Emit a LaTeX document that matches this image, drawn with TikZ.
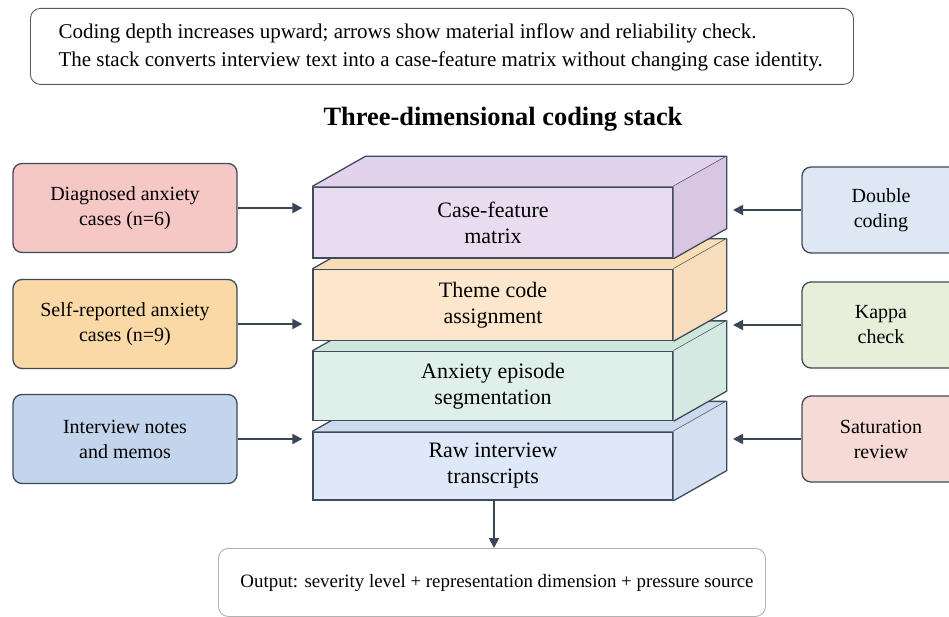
\documentclass[tikz,border=0pt]{standalone}
\usepackage{fontspec}
\setmainfont{Liberation Serif}
\usetikzlibrary{arrows.meta,calc}
\definecolor{edge}{HTML}{3F4A5A}
\definecolor{arrc}{HTML}{3A4658}
\definecolor{lbA}{HTML}{F5C7C5}
\definecolor{lbB}{HTML}{FAD9A6}
\definecolor{lbC}{HTML}{C2D5EC}
\definecolor{rbA}{HTML}{DEE8F5}
\definecolor{rbB}{HTML}{E8EEDA}
\definecolor{rbC}{HTML}{F6DAD6}
\definecolor{aF}{HTML}{EADCF0}\definecolor{aT}{HTML}{E2D2EC}\definecolor{aS}{HTML}{D9C6E3}
\definecolor{bF}{HTML}{FDE7CC}\definecolor{bT}{HTML}{F8DDB7}\definecolor{bS}{HTML}{F7DDBC}
\definecolor{cF}{HTML}{DFF0EA}\definecolor{cT}{HTML}{CFE6DD}\definecolor{cS}{HTML}{D4E9E2}
\definecolor{dF}{HTML}{DFE8F8}\definecolor{dT}{HTML}{CCD9EE}\definecolor{dS}{HTML}{D4DFF2}
\tikzset{
  txt/.style={font=\fontsize{20}{25}\selectfont, align=center, text=black},
  sidebox/.style={txt, draw=edge, line width=1.3pt, rounded corners=9pt, inner sep=0pt},
  lbox/.style={sidebox, minimum width=224pt, minimum height=89pt},
  rbox/.style={sidebox, minimum width=158pt, minimum height=86pt},
  layer/.style={txt, font=\fontsize{22}{26}\selectfont, draw=edge, line width=1.3pt, minimum width=360pt, inner sep=0pt},
  face/.style={draw=edge, line width=1.3pt, line join=round},
  arr/.style={draw=arrc, line width=1.8pt, -{Triangle[length=10pt,width=10pt]}},
  note/.style={draw=gray!70!black, line width=0.9pt, rounded corners=10pt}
}
\newcommand{\cuboidfaces}[3]{%
  \fill[#2] (#1.north west) -- ++(53,-30) -- ($(#1.north east)+(53,-30)$) -- (#1.north east) -- cycle;
  \draw[face] (#1.north west) -- ++(53,-30) -- ($(#1.north east)+(53,-30)$) -- (#1.north east);
  \fill[#3] (#1.north east) -- ++(53,-30) -- ($(#1.south east)+(53,-30)$) -- (#1.south east) -- cycle;
  \draw[face] ($(#1.north east)+(53,-30)$) -- ($(#1.south east)+(53,-30)$) -- (#1.south east);
}
\begin{document}
\begin{tikzpicture}[x=1pt,y=-1pt]
\useasboundingbox (0,0) rectangle (949,617);
\fill[white] (0,0) rectangle (949,617);
% note
\node[note, minimum width=823pt, minimum height=76pt, anchor=north west] (noteBox) at (30,8) {};
\node[txt, font=\fontsize{21}{28}\selectfont, align=left, anchor=west] (noteTxt) at (55,47) {Coding depth increases upward; arrows show material inflow and reliability check.\\The stack converts interview text into a case-feature matrix without changing case identity.};
% title
\node[font=\fontsize{26.4}{30}\selectfont\bfseries] (title) at (503,119) {Three-dimensional coding stack};
% layers (bottom first)
\node[layer, fill=dF, minimum height=68pt] (L4) at (493,466) {Raw interview\\transcripts};
\cuboidfaces{L4}{dT}{dS}
\node[layer, fill=cF, minimum height=69pt] (L3) at (493,386) {Anxiety episode\\segmentation};
\cuboidfaces{L3}{cT}{cS}
\node[layer, fill=bF, minimum height=71pt] (L2) at (493,305) {Theme code\\assignment};
\cuboidfaces{L2}{bT}{bS}
\node[layer, fill=aF, minimum height=71pt] (L1) at (493,222.5) {Case-feature\\matrix};
\cuboidfaces{L1}{aT}{aS}
\coordinate (sideR) at (726,0);
% left boxes
\node[lbox, fill=lbA] (in1) at (125,208) {Diagnosed anxiety\\cases (n=6)};
\node[lbox, fill=lbB] (in2) at (125,324) {Self-reported anxiety\\cases (n=9)};
\node[lbox, fill=lbC] (in3) at (125,439) {Interview notes\\and memos};
% right boxes
\node[rbox, fill=rbA] (ck1) at (881,210) {Double\\coding};
\node[rbox, fill=rbB] (ck2) at (881,325) {Kappa\\check};
\node[rbox, fill=rbC] (ck3) at (881,439) {Saturation\\review};
% arrows
\draw[arr] (in1.east) -- ([xshift=-10pt]in1.east -| L1.west);
\draw[arr] (in2.east) -- ([xshift=-10pt]in2.east -| L2.west);
\draw[arr] (in3.east) -- ([xshift=-10pt]in3.east -| L4.west);
\draw[arr] (ck1.west) -- ([xshift=7pt]ck1.west -| sideR);
\draw[arr] (ck2.west) -- ([xshift=7pt]ck2.west -| sideR);
\draw[arr] (ck3.west) -- ([xshift=7pt]ck3.west -| sideR);
% output
\node[note, fill=white, minimum width=547pt, minimum height=68pt, anchor=north west, draw=gray!60] (outBox) at (218,548) {};
\node[txt, font=\fontsize{18.9}{24}\selectfont] (outTxt) at (497,583) {Output: severity level + representation dimension + pressure source};
\draw[arr] (L4.south -| 494,0) -- (outBox.north -| 494,0);
\end{tikzpicture}
\end{document}
